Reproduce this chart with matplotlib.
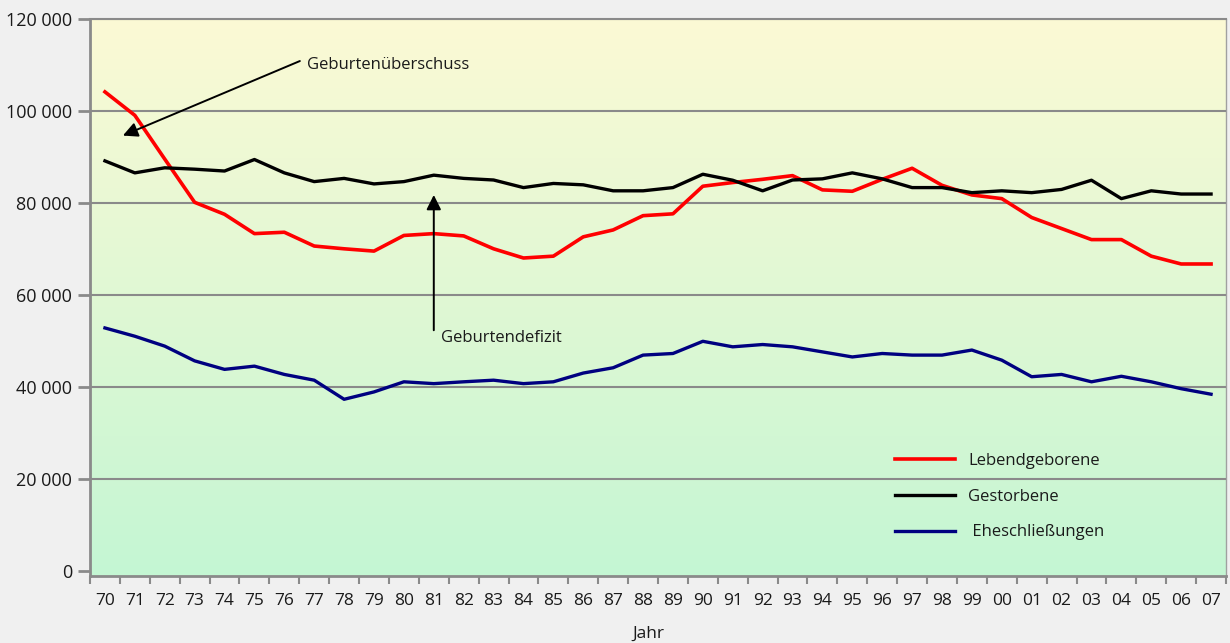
import matplotlib
matplotlib.use("Agg")
import matplotlib.pyplot as plt
import numpy as np

plt.rcParams['font.family'] = ['Open Sans', 'DejaVu Sans']

years = ['70', '71', '72', '73', '74', '75', '76', '77', '78', '79',
         '80', '81', '82', '83', '84', '85', '86', '87', '88', '89',
         '90', '91', '92', '93', '94', '95', '96', '97', '98', '99',
         '00', '01', '02', '03', '04', '05', '06', '07']

lebendgeborene = [104100, 99000, 89500, 80100, 77500, 73300, 73600, 70600, 70000, 69500,
                  72900, 73300, 72800, 70000, 68000, 68400, 72600, 74100, 77200, 77600,
                  83600, 84400, 85100, 85900, 82800, 82500, 85100, 87500, 83800, 81700,
                  80900, 76800, 74400, 72000, 72000, 68400, 66700, 66700]

gestorbene = [89100, 86500, 87600, 87300, 86900, 89400, 86500, 84600, 85300, 84100,
              84600, 86000, 85300, 84950, 83300, 84200, 83900, 82600, 82600, 83300,
              86200, 84900, 82600, 84950, 85200, 86500, 85200, 83300, 83300, 82200,
              82600, 82200, 82900, 84900, 80900, 82600, 81900, 81900]

eheschliessungen = [52800, 51000, 48850, 45650, 43800, 44500, 42700, 41450, 37300, 38900,
                    41100, 40700, 41100, 41450, 40700, 41100, 43000, 44150, 46900, 47250,
                    49900, 48700, 49200, 48700, 47600, 46500, 47250, 46900, 46900, 48000,
                    45800, 42200, 42700, 41100, 42300, 41100, 39600, 38400]

y_ticks = [0, 20000, 40000, 60000, 80000, 100000, 120000]

fig = plt.figure(figsize=(12.3, 6.43), dpi=100, facecolor='#f0f0f0')
ax = fig.add_axes([90 / 1230, 1 - 576 / 643, 1136 / 1230, 557.3 / 643])

x = np.arange(len(years))
n = len(years)
y_bottom = -1100

# background gradient, cream at top to mint at bottom
top = np.array([252, 250, 213]) / 255
bottom = np.array([196, 246, 211]) / 255
t = np.linspace(0, 1, 256).reshape(-1, 1, 1)
grad = top * (1 - t) + bottom * t
ax.imshow(grad, aspect='auto', extent=[-0.5, n - 0.5, y_bottom, 120000], zorder=0)

ax.set_xlim(-0.5, n - 0.5)
ax.set_ylim(y_bottom, 120000)

ax.plot(x, lebendgeborene, color='#ff0000', lw=2.6, label='Lebendgeborene', zorder=3)
ax.plot(x, gestorbene, color='black', lw=2.4, label='Gestorbene', zorder=3)
ax.plot(x, eheschliessungen, color='#000080', lw=2.4, label=' Eheschließungen', zorder=3)

ax.set_yticks(y_ticks)
ax.set_yticklabels([f"{v:,}".replace(",", " ") for v in y_ticks])
ax.yaxis.grid(True, color='#8a8a8a', lw=1.5)
ax.set_axisbelow(False)
for line in ax.get_ygridlines():
    line.set_zorder(1)
ax.get_ygridlines()[0].set_visible(False)

ax.set_xticks(np.arange(-0.5, n, 1.0))
ax.set_xticklabels([])
ax.set_xticks(x, minor=True)
ax.set_xticklabels(years, minor=True)
ax.tick_params(axis='x', which='major', length=6, width=1.5, color='#8a8a8a')
ax.tick_params(axis='x', which='minor', length=0, pad=12, labelsize=12.5, labelcolor='#1a1a1a')
ax.tick_params(axis='y', length=9, width=2, color='#8a8a8a', pad=4, labelsize=13,
               labelcolor='#1a1a1a')

for side in ['left', 'bottom']:
    ax.spines[side].set_color('#8a8a8a')
    ax.spines[side].set_linewidth(2)
ax.spines['top'].set_color('#8a8a8a')
ax.spines['top'].set_linewidth(1.5)
ax.spines['right'].set_color('#a0a0a0')
ax.spines['right'].set_linewidth(1)

arrow = dict(arrowstyle='-|>', mutation_scale=22, lw=1.4, color='black', shrinkA=0, shrinkB=0)
ax.annotate('', xy=(0.6, 94600), xytext=(6.52, 110800), arrowprops=arrow, zorder=4)
ax.text(6.76, 110000, 'Geburtenüberschuss', fontsize=12, va='center', ha='left', color='#1a1a1a')
ax.annotate('', xy=(11.0, 81700), xytext=(11.0, 52300), arrowprops=arrow, zorder=4)
ax.text(11.25, 50600, 'Geburtendefizit', fontsize=12, va='center', ha='left', color='#1a1a1a')

leg = ax.legend(loc='upper left', bbox_to_anchor=(0.7086, 0.2206), frameon=False,
                fontsize=12, handlelength=3.6, handletextpad=0.8, labelspacing=1.18,
                borderpad=0, borderaxespad=0)
for txt in leg.get_texts():
    txt.set_color('#1a1a1a')

fig.text(648 / 1230, 1 - 634 / 643, 'Jahr', fontsize=12.5, ha='center', va='center',
         color='#1a1a1a')

fig.savefig('out.png', dpi=100, facecolor=fig.get_facecolor())
